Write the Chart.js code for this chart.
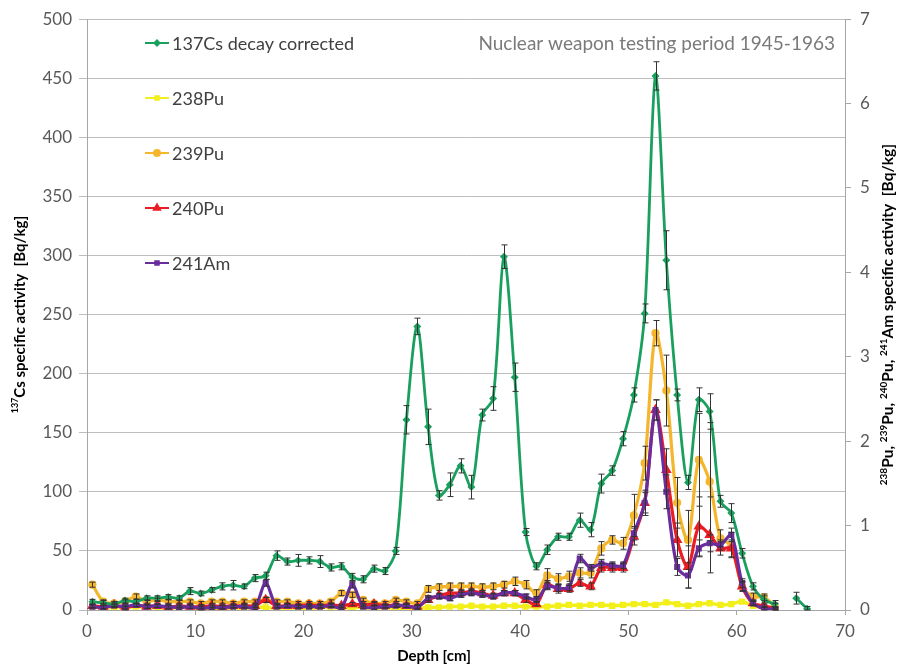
<!DOCTYPE html>
<html>
<head>
<meta charset="utf-8">
<script src="https://cdn.jsdelivr.net/npm/chart.js@4.4.1/dist/chart.umd.min.js"></script>
<style>
  html, body { margin: 0; padding: 0; background: #fff; }
  #wrap { width: 900px; height: 669px; position: relative; }
</style>
</head>
<body>
<div id="wrap"><canvas id="profileChart"></canvas></div>
<script>
// Sample depths [cm], one slice per cm
const depth = [
  0.5, 1.5, 2.5, 3.5, 4.5, 5.5, 6.5, 7.5, 8.5, 9.5,
  10.5, 11.5, 12.5, 13.5, 14.5, 15.5, 16.5, 17.5, 18.5, 19.5,
  20.5, 21.5, 22.5, 23.5, 24.5, 25.5, 26.5, 27.5, 28.5, 29.5,
  30.5, 31.5, 32.5, 33.5, 34.5, 35.5, 36.5, 37.5, 38.5, 39.5,
  40.5, 41.5, 42.5, 43.5, 44.5, 45.5, 46.5, 47.5, 48.5, 49.5,
  50.5, 51.5, 52.5, 53.5, 54.5, 55.5, 56.5, 57.5, 58.5, 59.5,
  60.5, 61.5, 62.5, 63.5, 64.5, 65.5, 66.5
];

// 137Cs, decay corrected [Bq/kg] (left axis)
const cs137 = [
  7, 6, 5, 8, 7, 10, 10, 11, 10, 16,
  14, 17, 20, 21, 20, 27, 29, 46, 41, 42,
  42, 41, 36, 37, 28, 26, 35, 33, 50, 161,
  240, 155, 97, 106, 122, 104, 165, 179, 299, 197,
  66, 37, 51, 62, 62, 76, 68, 107, 118, 145,
  182, 251, 452, 296, 182, 108, 178, 168, 92, 82,
  48, 20, 9, 5, null, 10, 1
];
const cs137Err = [
  2, 2, 2, 2, 2, 2, 2, 2, 2, 3,
  2, 2, 3, 4, 2, 3, 3, 4, 3, 5,
  3, 5, 3, 3, 3, 3, 3, 3, 3, 12,
  7, 15, 4, 10, 6, 10, 5, 10, 10, 12,
  3, 3, 4, 3, 3, 6, 6, 8, 4, 6,
  6, 8, 12, 25, 5, 6, 10, 15, 5, 8,
  4, 3, 3, 3, null, 5, 2
];

// Pu and Am activities [Bq/kg] (right axis), 0.5 .. 63.5 cm
const pu238 = [
  0.04, 0.03, 0.03, 0.03, 0.04, 0.03, 0.03, 0.02, 0.03, 0.03,
  0.02, 0.02, 0.02, 0.03, 0.02, 0.03, 0.03, 0.02, 0.03, 0.02,
  0.02, 0.03, 0.03, 0.02, 0.03, 0.03, 0.02, 0.03, 0.02, 0.02,
  0.02, 0.03, 0.03, 0.04, 0.04, 0.05, 0.04, 0.04, 0.05, 0.05,
  0.04, 0.04, 0.04, 0.05, 0.06, 0.05, 0.06, 0.06, 0.05, 0.06,
  0.07, 0.07, 0.06, 0.09, 0.07, 0.05, 0.07, 0.08, 0.06, 0.07,
  0.10, 0.05, 0.03, 0.02
];
const pu239 = [
  0.30, 0.10, 0.08, 0.10, 0.16, 0.10, 0.12, 0.10, 0.10, 0.10,
  0.08, 0.10, 0.10, 0.08, 0.10, 0.10, 0.12, 0.10, 0.10, 0.08,
  0.08, 0.08, 0.10, 0.20, 0.18, 0.12, 0.08, 0.08, 0.12, 0.10,
  0.08, 0.25, 0.27, 0.28, 0.28, 0.28, 0.27, 0.28, 0.30, 0.34,
  0.30, 0.20, 0.41, 0.37, 0.40, 0.44, 0.44, 0.73, 0.83, 0.79,
  1.12, 1.74, 3.28, 2.60, 1.27, 0.83, 1.78, 1.52, 0.85, 0.77,
  0.28, 0.16, 0.15, 0.05
];
const pu239Err = [
  0.03, 0.02, 0.02, 0.02, 0.03, 0.02, 0.02, 0.02, 0.02, 0.02,
  0.02, 0.02, 0.02, 0.02, 0.02, 0.02, 0.03, 0.02, 0.02, 0.02,
  0.02, 0.02, 0.02, 0.03, 0.03, 0.02, 0.02, 0.02, 0.02, 0.02,
  0.02, 0.04, 0.04, 0.04, 0.04, 0.04, 0.04, 0.04, 0.04, 0.05,
  0.05, 0.04, 0.08, 0.06, 0.06, 0.06, 0.06, 0.08, 0.05, 0.07,
  0.25, 0.20, 0.15, 0.42, 0.30, 0.35, 0.55, 0.70, 0.10, 0.15,
  0.06, 0.04, 0.04, 0.03
];
const pu240 = [
  0.05, 0.04, 0.06, 0.02, 0.06, 0.04, 0.05, 0.03, 0.05, 0.04,
  0.04, 0.05, 0.04, 0.05, 0.05, 0.05, 0.12, 0.05, 0.05, 0.05,
  0.06, 0.05, 0.06, 0.05, 0.07, 0.06, 0.07, 0.05, 0.06, 0.05,
  0.04, 0.12, 0.17, 0.20, 0.20, 0.22, 0.20, 0.17, 0.20, 0.20,
  0.12, 0.07, 0.30, 0.25, 0.25, 0.32, 0.28, 0.50, 0.50, 0.50,
  0.87, 1.27, 2.37, 1.66, 0.83, 0.51, 0.99, 0.89, 0.73, 0.73,
  0.28, 0.08, 0.05, 0.02
];
const pu240Err = [
  0.02, 0.02, 0.02, 0.02, 0.02, 0.02, 0.02, 0.02, 0.02, 0.02,
  0.02, 0.02, 0.02, 0.02, 0.02, 0.02, 0.03, 0.02, 0.02, 0.02,
  0.02, 0.02, 0.02, 0.02, 0.02, 0.02, 0.02, 0.02, 0.02, 0.02,
  0.02, 0.03, 0.03, 0.03, 0.03, 0.03, 0.03, 0.03, 0.03, 0.03,
  0.03, 0.02, 0.05, 0.05, 0.04, 0.04, 0.04, 0.05, 0.05, 0.05,
  0.10, 0.15, 0.12, 0.25, 0.20, 0.25, 0.35, 0.45, 0.08, 0.10,
  0.05, 0.03, 0.02, 0.02
];
const am241 = [
  0.04, 0.03, 0.05, 0.04, 0.06, 0.04, 0.05, 0.04, 0.03, 0.04,
  0.02, 0.03, 0.03, 0.04, 0.04, 0.03, 0.32, 0.04, 0.05, 0.04,
  0.04, 0.04, 0.05, 0.03, 0.30, 0.04, 0.03, 0.04, 0.05, 0.05,
  0.03, 0.14, 0.16, 0.14, 0.18, 0.20, 0.18, 0.16, 0.20, 0.20,
  0.16, 0.12, 0.28, 0.26, 0.27, 0.61, 0.50, 0.55, 0.53, 0.53,
  0.91, 1.27, 2.37, 1.40, 0.51, 0.41, 0.73, 0.79, 0.77, 0.89,
  0.32, 0.08, 0.02, 0.01
];
const am241Err = [
  0.02, 0.02, 0.02, 0.02, 0.02, 0.02, 0.02, 0.02, 0.02, 0.02,
  0.02, 0.02, 0.02, 0.02, 0.02, 0.02, 0.04, 0.02, 0.02, 0.02,
  0.02, 0.02, 0.02, 0.02, 0.04, 0.02, 0.02, 0.02, 0.02, 0.02,
  0.02, 0.03, 0.03, 0.03, 0.03, 0.03, 0.03, 0.03, 0.03, 0.03,
  0.03, 0.02, 0.04, 0.04, 0.04, 0.05, 0.04, 0.05, 0.04, 0.04,
  0.08, 0.12, 0.12, 0.20, 0.10, 0.15, 0.10, 0.10, 0.06, 0.08,
  0.05, 0.02, 0.02, 0.02
];

const csTicks = [0, 50, 100, 150, 200, 250, 300, 350, 400, 450, 500];
const actTicks = [0, 1, 2, 3, 4, 5, 6, 7];
const depthTicks = [0, 10, 20, 30, 40, 50, 60, 70];

const FONT = 'Lato, "Open Sans", sans-serif';
const TICK_COLOR = '#595959';

function toPoints(values) {
  return values.map((v, i) => ({ x: depth[i], y: v }));
}

// vertical error bars with small caps, drawn in data space
const errorBars = {
  id: 'errorBars',
  afterDatasetsDraw(chart) {
    const ctx = chart.ctx;
    const xs = chart.scales.x;
    chart.data.datasets.forEach((ds, i) => {
      if (!ds.errors || !chart.isDatasetVisible(i)) return;
      const ys = chart.scales[ds.yAxisID];
      ctx.save();
      ctx.strokeStyle = '#333333';
      ctx.lineWidth = 1;
      ds.data.forEach((p, j) => {
        const e = ds.errors[j];
        if (p.y == null || !e) return;
        const x = Math.round(xs.getPixelForValue(p.x)) + 0.5;
        const top = ys.getPixelForValue(p.y + e);
        const bot = ys.getPixelForValue(Math.max(p.y - e, 0));
        ctx.beginPath();
        ctx.moveTo(x, top); ctx.lineTo(x, bot);
        ctx.moveTo(x - 3, top); ctx.lineTo(x + 3, top);
        ctx.moveTo(x - 3, bot); ctx.lineTo(x + 3, bot);
        ctx.stroke();
      });
      ctx.restore();
    });
  }
};

// text made of normal and superscript pieces
function richWidth(ctx, parts, size) {
  let w = 0;
  parts.forEach(p => {
    ctx.font = 'bold ' + (p.sup ? Math.round(size * 0.62) : size) + 'px ' + FONT;
    w += ctx.measureText(p.t).width;
  });
  return w;
}
function drawRich(ctx, parts, size, cx, cy, angle) {
  ctx.save();
  ctx.translate(cx, cy);
  ctx.rotate(angle);
  ctx.fillStyle = '#000';
  ctx.textBaseline = 'middle';
  ctx.textAlign = 'left';
  let x = -richWidth(ctx, parts, size) / 2;
  parts.forEach(p => {
    const s = p.sup ? Math.round(size * 0.62) : size;
    ctx.font = 'bold ' + s + 'px ' + FONT;
    ctx.fillText(p.t, x, p.sup ? -size * 0.3 : 0);
    x += ctx.measureText(p.t).width;
  });
  ctx.restore();
}

const decorations = {
  id: 'decorations',
  afterDraw(chart) {
    const ctx = chart.ctx;
    const area = chart.chartArea;

    // legend, stacked down the left of the plot
    chart.data.datasets.forEach((ds, i) => {
      const y = 43 + i * 55;
      ctx.save();
      ctx.strokeStyle = ds.borderColor;
      ctx.lineWidth = 2;
      ctx.beginPath();
      ctx.moveTo(145, y); ctx.lineTo(169, y);
      ctx.stroke();
      ctx.fillStyle = ds.pointBackgroundColor;
      ctx.strokeStyle = ds.borderColor;
      Chart.helpers.drawPoint(ctx, {
        pointStyle: ds.pointStyle, radius: ds.pointRadius + 0.5, rotation: 0, borderWidth: 1
      }, 157, y);
      ctx.fillStyle = '#404040';
      ctx.font = '18px ' + FONT;
      ctx.textBaseline = 'middle';
      ctx.fillText(ds.label, 172, y + 1);
      ctx.restore();
    });

    ctx.save();
    ctx.fillStyle = '#7a7a7a';
    ctx.font = '19px ' + FONT;
    ctx.textAlign = 'right';
    ctx.textBaseline = 'middle';
    ctx.fillText('Nuclear weapon testing period 1945-1963', area.right - 10, 44);
    ctx.restore();

    const midY = (area.top + area.bottom) / 2;
    drawRich(ctx, [
      { t: '137', sup: true }, { t: 'Cs specific activity  [Bq/kg]' }
    ], 15, 20, midY, -Math.PI / 2);
    drawRich(ctx, [
      { t: '238', sup: true }, { t: 'Pu, ' },
      { t: '239', sup: true }, { t: 'Pu, ' },
      { t: '240', sup: true }, { t: 'Pu, ' },
      { t: '241', sup: true }, { t: 'Am specific activity  [Bq/kg]' }
    ], 15.5, 888, midY, -Math.PI / 2);
    drawRich(ctx, [{ t: 'Depth [cm]' }], 15, 434, 656, 0);
  }
};

const ctx = document.getElementById('profileChart').getContext('2d');
const profileChart = new Chart(ctx, {
  type: 'line',
  data: {
    datasets: [
      {
        label: '137Cs decay corrected',
        data: toPoints(cs137), errors: cs137Err, yAxisID: 'y',
        borderColor: '#1aa05e', backgroundColor: '#1aa05e', pointBackgroundColor: '#1aa05e',
        borderWidth: 2.8, pointStyle: 'rectRot', pointRadius: 2, order: 1
      },
      {
        label: '238Pu',
        data: toPoints(pu238), yAxisID: 'y2',
        borderColor: '#f2ef1a', backgroundColor: '#f2ef1a', pointBackgroundColor: '#f2ef1a',
        borderWidth: 3.5, pointStyle: 'rect', pointRadius: 2, order: 5
      },
      {
        label: '239Pu',
        data: toPoints(pu239), errors: pu239Err, yAxisID: 'y2',
        borderColor: '#f4b62c', backgroundColor: '#f4b62c', pointBackgroundColor: '#f4b62c',
        borderWidth: 3.2, pointStyle: 'circle', pointRadius: 2.5, order: 4
      },
      {
        label: '240Pu',
        data: toPoints(pu240), errors: pu240Err, yAxisID: 'y2',
        borderColor: '#ec1c24', backgroundColor: '#ec1c24', pointBackgroundColor: '#ec1c24',
        borderWidth: 3.2, pointStyle: 'triangle', pointRadius: 3, order: 3
      },
      {
        label: '241Am',
        data: toPoints(am241), errors: am241Err, yAxisID: 'y2',
        borderColor: '#6a2d9e', backgroundColor: '#6a2d9e', pointBackgroundColor: '#6a2d9e',
        borderWidth: 3.2, pointStyle: 'rect', pointRadius: 2, order: 2
      }
    ]
  },
  options: {
    responsive: true,
    maintainAspectRatio: false,
    animation: false,
    spanGaps: false,
    layout: { padding: { top: 19, left: 0, right: 0, bottom: 0 } },
    elements: {
      line: { tension: 0.3 },
      point: { borderWidth: 1, hoverRadius: 3 }
    },
    plugins: {
      legend: { display: false },
      tooltip: { enabled: false }
    },
    scales: {
      x: {
        type: 'linear', min: 0, max: 70,
        afterFit(s) { s.height = 59; },
        afterBuildTicks(s) { s.ticks = depthTicks.map(v => ({ value: v })); },
        grid: { drawOnChartArea: false, drawTicks: true, tickLength: 5, color: '#a6a6a6' },
        border: { color: '#a6a6a6' },
        ticks: { color: TICK_COLOR, font: { family: FONT, size: 17 }, padding: 6 }
      },
      y: {
        type: 'linear', position: 'left', min: 0, max: 500,
        afterFit(s) { s.width = 87; },
        afterBuildTicks(s) { s.ticks = csTicks.map(v => ({ value: v })); },
        grid: { color: '#bdbdbd', tickLength: 8 },
        border: { color: '#a6a6a6' },
        ticks: { color: TICK_COLOR, font: { family: FONT, size: 17 }, padding: 7 }
      },
      y2: {
        type: 'linear', position: 'right', min: 0, max: 7,
        afterFit(s) { s.width = 55; },
        afterBuildTicks(s) { s.ticks = actTicks.map(v => ({ value: v })); },
        grid: { drawOnChartArea: false, tickLength: 6, color: '#a6a6a6' },
        border: { color: '#a6a6a6' },
        ticks: { color: TICK_COLOR, font: { family: FONT, size: 17 }, padding: 9 }
      }
    }
  },
  plugins: [errorBars, decorations]
});
</script>
</body>
</html>
